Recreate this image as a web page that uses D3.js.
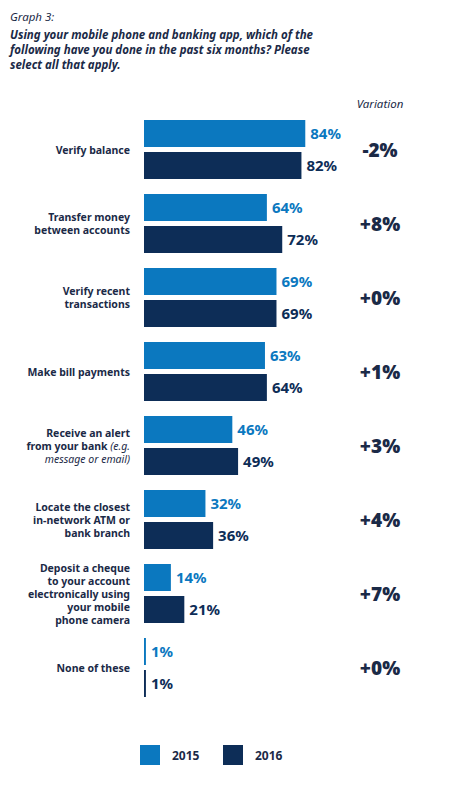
<!DOCTYPE html>
<html><head><meta charset="utf-8">
<script src="https://cdn.jsdelivr.net/npm/d3@7"></script>
<style>
body{margin:0;background:#fff;font-family:"Noto Sans",sans-serif;}
</style></head>
<body><div id="chart"></div>
<script>
// data
var categories = [
  ["Verify balance"],
  ["Transfer money", "between accounts"],
  ["Verify recent", "transactions"],
  ["Make bill payments"],
  ["Receive an alert", "from your bank (e.g.", "message or email)"],
  ["Locate the closest", "in-network ATM or", "bank branch"],
  ["Deposit a cheque", "to your account", "electronically using", "your mobile", "phone camera"],
  ["None of these"]
];
var values2015 = [84, 64, 69, 63, 46, 32, 14, 1];
var values2016 = [82, 72, 69, 64, 49, 36, 21, 1];
var variation = ["-2%", "+8%", "+0%", "+1%", "+3%", "+4%", "+7%", "+0%"];
var seriesNames = ["2015", "2016"];
var colors = ["#0b78bf", "#0d2d57"];
var textColor = "#1b2a47";

var svg = d3.select("#chart").append("svg").attr("width", 467).attr("height", 796);

// title
var title = svg.append("text").attr("x", 10).attr("fill", textColor).style("font-size", "11.5px").style("font-style", "italic");
title.append("tspan").attr("x", 10).attr("y", 21).text("Graph 3:");
["Using your mobile phone and banking app, which of the",
 "following have you done in the past six months?  Please",
 "select all that apply."].forEach(function(t, i) {
  title.append("tspan").attr("x", 10).attr("y", 39 + i * 15).style("font-weight", "bold").text(t);
});

// scales
var x = d3.scaleLinear().domain([0, 100]).range([144, 336]);
var y = d3.scaleBand().domain(d3.range(categories.length)).range([118, 710]).paddingInner(0);

svg.append("text").attr("x", 380).attr("y", 108).attr("text-anchor", "middle")
  .attr("fill", textColor).style("font-size", "11.5px").style("font-style", "italic").text("Variation");

var bh = 27, gap = 5;
var g = svg.selectAll("g.row").data(categories).enter().append("g").attr("class", "row")
  .attr("transform", function(d, i) { return "translate(0," + y(i) + ")"; });

[values2015, values2016].forEach(function(vals, s) {
  g.append("rect")
    .attr("x", x(0)).attr("y", s * (bh + gap) + 2)
    .attr("width", function(d, i) { return x(vals[i]) - x(0); })
    .attr("height", bh).attr("fill", colors[s]);
  g.append("text")
    .attr("x", function(d, i) { return x(vals[i]) + 5; })
    .attr("y", s * (bh + gap) + 2 + bh / 2 + 5)
    .attr("fill", colors[s]).style("font-size", "15px").style("font-weight", "bold")
    .text(function(d, i) { return vals[i] + "%"; });
});

// category labels, one text element per line
g.each(function(d, i) {
  var mid = 2 + bh + gap / 2;
  var row = d3.select(this);
  var n = d.length;
  d.forEach(function(line, k) {
    var ty = mid + (k - (n - 1) / 2) * 13 + 4;
    var t = row.append("text").attr("text-anchor", "end").attr("fill", textColor)
      .attr("x", 130).attr("y", ty)
      .style("font-size", "10.5px").style("font-weight", "bold");
    if (line.indexOf("(e.g.") >= 0) {
      t.append("tspan").text("from your bank ");
      t.append("tspan").style("font-weight", "normal").style("font-style", "italic").text("(e.g.");
    } else if (line === "message or email)") {
      t.style("font-weight", "normal").style("font-style", "italic").text(line);
    } else t.text(line);
  });
  row.append("text").attr("x", 380).attr("y", mid + 7).attr("text-anchor", "middle")
    .attr("fill", textColor).style("font-size", "19px").style("font-weight", "900").text(variation[i]);
});

// legend
var lg = svg.selectAll("g.leg").data(seriesNames).enter().append("g")
  .attr("transform", function(d, i) { return "translate(" + (140 + i * 83) + ",745)"; });
lg.append("rect").attr("width", 20).attr("height", 20).attr("fill", function(d, i) { return colors[i]; });
lg.append("text").attr("x", 32).attr("y", 15).attr("fill", textColor)
  .style("font-size", "12px").style("font-weight", "bold").text(function(d) { return d; });
</script></body></html>
